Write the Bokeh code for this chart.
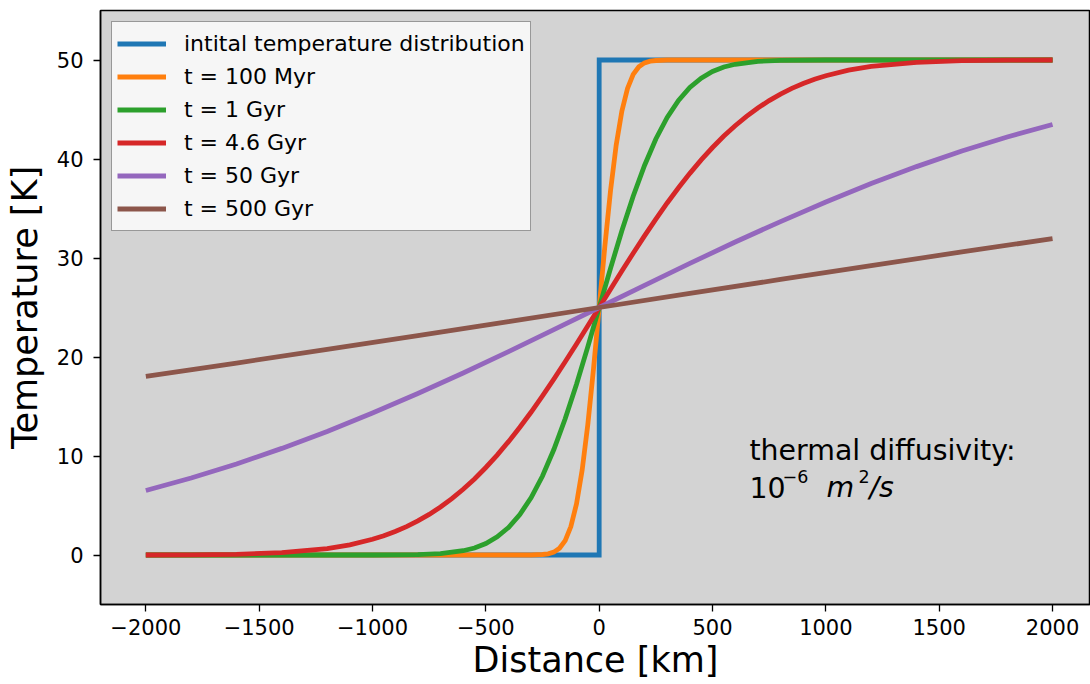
from bokeh.plotting import figure
from bokeh.models import Legend, LegendItem, Label, FixedTicker, Range1d
from bokeh.embed import file_html
from bokeh.resources import INLINE

# ---- data ----
init_x = [-2000, 0, 0, 2000]
init_y = [0, 0, 50, 50]

myr100_x = [-2000, -300, -250, -225, -200, -175, -150, -125, -100, -75, -50, -25, 0,
            25, 50, 75, 100, 125, 150, 175, 200, 225, 250, 300, 2000]
myr100_y = [0, 0, 0.05, 0.11, 0.29, 0.68, 1.46, 2.87, 5.17, 8.59, 13.20, 18.81, 25.0,
            31.19, 36.80, 41.41, 44.83, 47.13, 48.54, 49.32, 49.71, 49.89, 49.95, 50, 50]

gyr1_x = [-2000, -1200, -1000, -800, -700, -600, -550, -500, -450, -400, -350, -300, -250,
          -200, -150, -100, -50, 0, 50, 100, 150, 200, 250, 300, 350, 400, 450, 500, 550,
          600, 700, 800, 1000, 1200, 2000]
gyr1_y = [0, 0, 0.0, 0.04, 0.13, 0.43, 0.71, 1.16, 1.83, 2.78, 4.09, 5.80, 7.98,
          10.65, 13.76, 17.25, 21.05, 25.0, 28.95, 32.75, 36.24, 39.35, 42.02, 44.20, 45.91,
          47.22, 48.17, 48.84, 49.29, 49.57, 49.87, 49.96, 50.0, 50, 50]

gyr46_x = [-2000, -1800, -1600, -1400, -1200, -1100, -1000, -950, -900, -850, -800, -750,
           -700, -650, -600, -550, -500, -450, -400, -350, -300, -250, -200, -150, -100, -50,
           0, 50, 100, 150, 200, 250, 300, 350, 400, 450, 500, 550, 600, 650, 700, 750,
           800, 850, 900, 950, 1000, 1100, 1200, 1400, 1600, 1800, 2000]
gyr46_y = [0.0, 0.02, 0.07, 0.23, 0.65, 1.03, 1.59, 1.95, 2.38, 2.87, 3.44, 4.10,
           4.85, 5.69, 6.64, 7.68, 8.84, 10.09, 11.45, 12.90, 14.44, 16.07, 17.76, 19.52,
           21.32, 23.15,
           25.0, 26.85, 28.68, 30.48, 32.24, 33.93, 35.56, 37.10, 38.55, 39.91, 41.16, 42.32,
           43.36, 44.31, 45.15, 45.90, 46.56, 47.13, 47.62, 48.05, 48.41, 48.97, 49.35,
           49.77, 49.93, 49.98, 50.0]

gyr50_x = [-2000, -1800, -1600, -1400, -1200, -1000, -800, -600, -400, -200, 0,
           200, 400, 600, 800, 1000, 1200, 1400, 1600, 1800, 2000]
gyr50_y = [6.51, 7.78, 9.19, 10.77, 12.47, 14.34, 16.32, 18.38, 20.55, 22.76, 25.0,
           27.24, 29.45, 31.62, 33.68, 35.66, 37.53, 39.23, 40.81, 42.22, 43.49]

gyr500_x = [-2000, -1600, -1200, -800, -400, 0, 400, 800, 1200, 1600, 2000]
gyr500_y = [18.04, 19.39, 20.77, 22.17, 23.58, 25.0, 26.42, 27.83, 29.23, 30.61, 31.96]

labels = ["intital temperature distribution", "t = 100 Myr", "t = 1 Gyr",
          "t = 4.6 Gyr", "t = 50 Gyr", "t = 500 Gyr"]
colors = ["#1f77b4", "#ff7f0e", "#2ca02c", "#d62728", "#9467bd", "#8c564b"]

x_ticks = [-2000, -1500, -1000, -500, 0, 500, 1000, 1500, 2000]
x_tick_labels = ["\u22122000", "\u22121500", "\u22121000", "\u2212500", "0",
                 "500", "1000", "1500", "2000"]
y_ticks = [0, 10, 20, 30, 40, 50]

FONT = "DejaVu Sans"

p = figure(width=1090, height=684, output_backend="svg", toolbar_location=None,
           x_range=Range1d(-2200, 2167.5), y_range=Range1d(-5, 55))
p.min_border_left = 100
p.min_border_right = 0
p.min_border_top = 10
p.min_border_bottom = 80

p.background_fill_color = "#d3d3d3"
p.border_fill_color = "white"
p.outline_line_color = "#000000"
p.outline_line_width = 1.5
p.xgrid.visible = False
p.ygrid.visible = False

series = [(init_x, init_y), (myr100_x, myr100_y), (gyr1_x, gyr1_y),
          (gyr46_x, gyr46_y), (gyr50_x, gyr50_y), (gyr500_x, gyr500_y)]
items = []
for (xs, ys), lab, col in zip(series, labels, colors):
    r = p.line(xs, ys, line_color=col, line_width=4.8, line_join="miter", line_cap="butt")
    items.append(LegendItem(label=lab, renderers=[r]))

legend = Legend(items=items, location="top_left")
legend.margin = 11
legend.padding = 5
legend.spacing = 0
legend.label_height = 33
legend.glyph_height = 33
legend.glyph_width = 49
legend.label_standoff = 18
legend.label_text_font = FONT
legend.label_text_font_size = "22px"
legend.label_text_color = "#000000"
legend.background_fill_color = "#f6f6f6"
legend.background_fill_alpha = 1.0
legend.border_line_color = "#3a3a3a"
legend.border_line_width = 1.5
p.add_layout(legend)

for ax in (p.xaxis[0], p.yaxis[0]):
    ax.major_label_text_font = FONT
    ax.major_label_text_font_size = "21px"
    ax.major_label_text_color = "#000000"
    ax.axis_label_text_font = FONT
    ax.axis_label_text_font_style = "normal"
    ax.axis_label_text_font_size = "35px"
    ax.axis_label_text_color = "#000000"
    ax.major_tick_out = 7
    ax.major_tick_in = 0
    ax.minor_tick_out = 0
    ax.minor_tick_in = 0
    ax.major_tick_line_width = 1.3
    ax.axis_line_width = 1.5
    ax.major_tick_line_color = "#000000"
    ax.axis_line_color = "#000000"

p.xaxis.ticker = FixedTicker(ticks=x_ticks)
p.xaxis.major_label_overrides = {t: s for t, s in zip(x_ticks, x_tick_labels)}
p.yaxis.ticker = FixedTicker(ticks=y_ticks)
p.xaxis.axis_label = "Distance [km]"
p.yaxis.axis_label = "Temperature [K]"
p.xaxis.major_label_standoff = 7
p.yaxis.major_label_standoff = 10
p.xaxis.axis_label_standoff = 2
p.yaxis.axis_label_standoff = 9

# annotation text
ann_kw = dict(text_font=FONT, text_color="#000000", text_baseline="alphabetic",
              text_align="left")
p.add_layout(Label(x=663, y=10.55, text="thermal diffusivity:", text_font_size="28.4px", **ann_kw))
p.add_layout(Label(x=663, y=6.84, text="10", text_font_size="28.4px", **ann_kw))
p.add_layout(Label(x=809, y=7.95, text="\u22126", text_font_size="17.5px", **ann_kw))
p.add_layout(Label(x=1003, y=6.84, text="m", text_font_size="28.4px", text_font_style="italic", **ann_kw))
p.add_layout(Label(x=1144, y=7.95, text="2", text_font_size="17.5px", **ann_kw))
p.add_layout(Label(x=1192, y=6.84, text="/s", text_font_size="28.4px", text_font_style="italic", **ann_kw))

open("out.html", "w").write(file_html(p, INLINE))
